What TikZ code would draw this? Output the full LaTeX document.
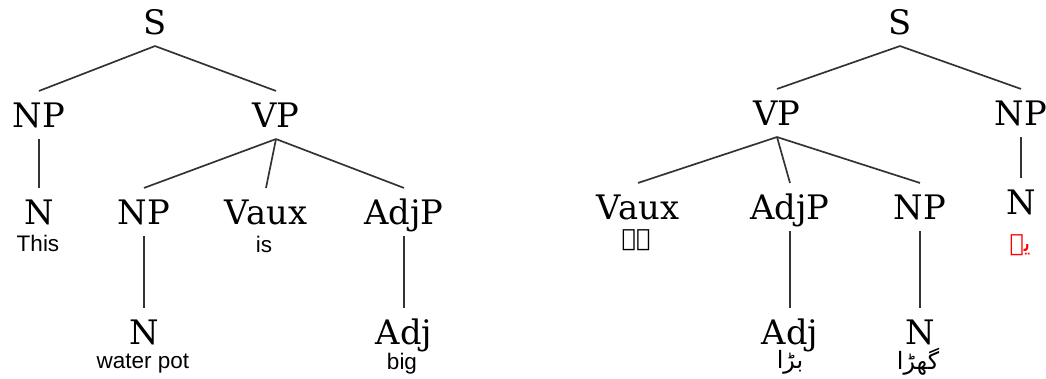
\documentclass[tikz,border=0pt]{standalone}
\usepackage{fontspec}
\setmainfont{DejaVu Serif}
\newfontfamily\wordfont{Liberation Sans}
\newfontfamily\urdufont[Script=Arabic]{DejaVu Sans}
\TeXXeTstate=1
\usetikzlibrary{positioning}

\begin{document}
\begin{tikzpicture}[
  x=0.025cm, y=-0.025cm,
  cat/.style = {font=\fontsize{24}{28}\selectfont, text height=17.2pt, text depth=0pt, inner sep=0pt, outer sep=8.5pt},
  word/.style = {font=\wordfont\fontsize{16}{19}\selectfont, inner sep=0pt},
  urdu/.style = {font=\urdufont\fontsize{17}{20}\selectfont, inner sep=0pt},
  edge/.style = {draw=black!80, line width=1.2pt}
  ]
	\useasboundingbox (0,0) rectangle (1046,379);

	\node[cat] (lS) at (155,22) {S};
	\node[cat] (lNP) at (39,115) {NP};
	\node[cat] (lVP) at (276,115) {VP};
	\node[cat] (lN) at (39,212) {N};
	\node[cat] (lNPo) at (144,212) {NP};
	\node[cat] (lVaux) at (266,212) {Vaux};
	\node[cat] (lAdjP) at (404,212) {AdjP};
	\node[cat] (lNo) at (144,332) {N};
	\node[cat] (lAdj) at (404,332) {Adj};

	\node[word] (wThis) at (38,243) {This};
	\node[word] (wIs) at (264,244) {is};
	\node[word] (wPot) at (143,364) {water pot};
	\node[word] (wBig) at (402,364) {big};

	\draw[edge] (lS.south) -- (lNP.north);
	\draw[edge] (lS.south) -- (lVP.north);
	\draw[edge] (lNP.south) -- (lN.north);
	\draw[edge] (lVP.south) -- (lNPo.north);
	\draw[edge] (lVP.south) -- (lVaux.north);
	\draw[edge] (lVP.south) -- (lAdjP.north);
	\draw[edge] (lNPo.south) -- (lNo.north);
	\draw[edge] (lAdjP.south) -- (lAdj.north);

	\node[cat] (rS) at (900,22) {S};
	\node[cat] (rVP) at (777,113) {VP};
	\node[cat] (rNP) at (1021,113) {NP};
	\node[cat] (rVaux) at (638,207) {Vaux};
	\node[cat] (rAdjP) at (790,207) {AdjP};
	\node[cat] (rNPo) at (920,207) {NP};
	\node[cat] (rN) at (1021,202) {N};
	\node[cat] (rAdj) at (790,332) {Adj};
	\node[cat] (rNo) at (920,332) {N};

	\node[urdu] (uHai) at (636,240) {\beginR ہے\endR};
	\node[urdu, red] (uYeh) at (1020,245) {\beginR یہ\endR};
	\node[urdu] (uBara) at (790,362) {\beginR بڑا\endR};
	\node[urdu] (uGhara) at (918,362) {\beginR گھڑا\endR};

	\draw[edge] (rS.south) -- (rVP.north);
	\draw[edge] (rS.south) -- (rNP.north);
	\draw[edge] (rVP.south) -- (rVaux.north);
	\draw[edge] (rVP.south) -- (rAdjP.north);
	\draw[edge] (rVP.south) -- (rNPo.north);
	\draw[edge] (rNP.south) -- (rN.north);
	\draw[edge] (rAdjP.south) -- (rAdj.north);
	\draw[edge] (rNPo.south) -- (rNo.north);

\end{tikzpicture}
\end{document}
